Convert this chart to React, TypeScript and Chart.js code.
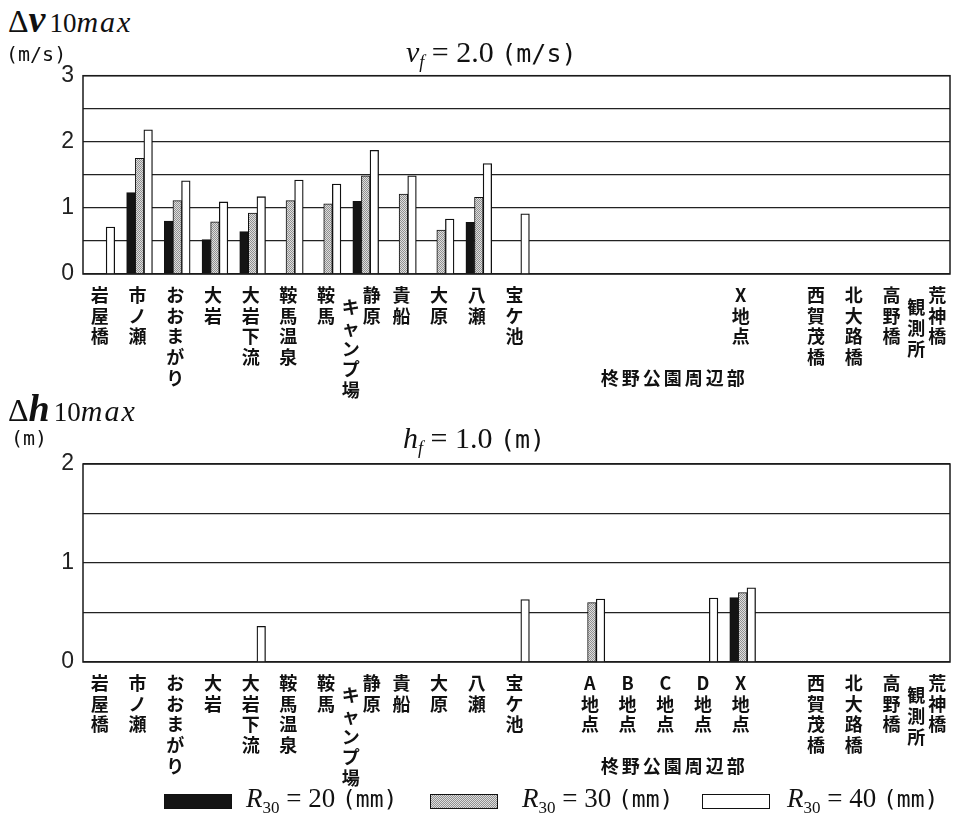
import React, { useEffect, useRef } from 'react';
import { Chart, registerables } from 'chart.js';

Chart.register(...registerables);

// ---------- data ----------
const topCategories = [
  '岩屋橋', '市ノ瀬', 'おおまがり', '大岩', '大岩下流', '鞍馬温泉', '鞍馬', '静原|キャンプ場',
  '貴船', '大原', '八瀬', '宝ケ池', '', '', '', '', '', 'X地点', '', '西賀茂橋', '北大路橋', '高野橋', '荒神橋|観測所',
];
const bottomCategories = [
  '岩屋橋', '市ノ瀬', 'おおまがり', '大岩', '大岩下流', '鞍馬温泉', '鞍馬', '静原|キャンプ場',
  '貴船', '大原', '八瀬', '宝ケ池', '', 'A地点', 'B地点', 'C地点', 'D地点', 'X地点', '', '西賀茂橋', '北大路橋', '高野橋', '荒神橋|観測所',
];
const groupLabel = '柊野公園周辺部';
const groupFirst = 13;
const groupLast = 17;

const seriesNames = ['R30 = 20 (mm)', 'R30 = 30 (mm)', 'R30 = 40 (mm)'];

const topR20 = [null, 1.23, 0.8, 0.52, 0.64, null, null, 1.1, null, null, 0.78, null, null, null, null, null, null, null, null, null, null, null, null];
const topR30 = [null, 1.75, 1.11, 0.79, 0.92, 1.11, 1.06, 1.485, 1.21, 0.665, 1.16, null, null, null, null, null, null, null, null, null, null, null, null];
const topR40 = [0.71, 2.18, 1.41, 1.09, 1.17, 1.42, 1.36, 1.87, 1.485, 0.83, 1.67, 0.91, null, null, null, null, null, null, null, null, null, null, null];

const bottomR20 = [null, null, null, null, null, null, null, null, null, null, null, null, null, null, null, null, null, 0.65, null, null, null, null, null];
const bottomR30 = [null, null, null, null, null, null, null, null, null, null, null, null, null, 0.6, null, null, null, 0.7, null, null, null, null, null];
const bottomR40 = [null, null, null, null, 0.36, null, null, null, null, null, null, 0.63, null, 0.635, null, null, 0.645, 0.75, null, null, null, null, null];

const topYMax = 3;
const bottomYMax = 2;
const yStep = 0.5;

// ---------- plugins ----------
const framePlugin = {
  id: 'frame',
  afterDatasetsDraw(chart: any) {
    const { ctx, chartArea } = chart;
    ctx.save();
    ctx.strokeStyle = '#1a1a1a';
    ctx.lineWidth = 1.5;
    ctx.strokeRect(chartArea.left, chartArea.top, chartArea.right - chartArea.left, chartArea.bottom - chartArea.top);
    ctx.restore();
  },
};

const labelPlugin = {
  id: 'catLabels',
  afterDraw(chart: any, _args: any, opts: any) {
    const { ctx, chartArea, scales } = chart;
    const xs = scales.x;
    const labels: string[] = opts.labels || [];
    const pitch = 20.7;
    const y0 = chartArea.bottom + 21;
    ctx.save();
    ctx.fillStyle = '#111';
    ctx.textAlign = 'center';
    ctx.textBaseline = 'middle';
    ctx.font = 'bold 18px "Noto Sans CJK JP", sans-serif';
    labels.forEach((lab, i) => {
      if (!lab) return;
      const cx = xs.getPixelForValue(i) - 2;
      const cols = lab.split('|');
      cols.forEach((col, k) => {
        const dx = cols.length > 1 ? (k === 0 ? 8 : -13) : 0;
        const dy = k === 0 ? 0 : pitch * 0.6;
        Array.from(col).forEach((ch, j) => {
          ctx.fillText(ch, cx + dx, y0 + dy + j * pitch);
        });
      });
    });
    const gx = (xs.getPixelForValue(groupFirst) + xs.getPixelForValue(groupLast)) / 2 + 7;
    (ctx as any).letterSpacing = '3px';
    ctx.fillText(groupLabel, gx, chartArea.bottom + 104);
    ctx.restore();
  },
};

function makePattern(): CanvasPattern | string {
  const c = document.createElement('canvas');
  c.width = 2;
  c.height = 2;
  const g = c.getContext('2d');
  if (!g) return '#bbb';
  g.fillStyle = '#dedede';
  g.fillRect(0, 0, 2, 2);
  g.fillStyle = '#909090';
  g.fillRect(0, 0, 1, 1);
  g.fillRect(1, 1, 1, 1);
  return g.createPattern(c, 'repeat') || '#bbb';
}

function makeConfig(labels: string[], r20: any[], r30: any[], r40: any[], yMax: number, padTop: number, padBottom: number, pattern: any): any {
  return {
    type: 'bar',
    data: {
      labels,
      datasets: [
        { label: seriesNames[0], data: r20, backgroundColor: '#141414', borderColor: '#111', borderWidth: 1 },
        { label: seriesNames[1], data: r30, backgroundColor: pattern, borderColor: '#111', borderWidth: 1 },
        { label: seriesNames[2], data: r40, backgroundColor: '#ffffff', borderColor: '#111', borderWidth: 1.3 },
      ],
    },
    options: {
      responsive: false,
      animation: false,
      layout: { padding: { top: padTop, right: 6, bottom: padBottom, left: 0 } },
      datasets: { bar: { barThickness: 8.6 } },
      plugins: {
        legend: { display: false },
        tooltip: { enabled: false },
        catLabels: { labels },
      },
      scales: {
        x: { type: 'category', display: false, offset: true },
        y: {
          min: 0,
          max: yMax,
          afterFit: (s: any) => { s.width = 83; s.paddingTop = 0; s.paddingBottom = 0; },
          border: { display: false },
          grid: { color: '#222', lineWidth: 1.3, drawTicks: false },
          ticks: {
            stepSize: yStep,
            padding: 9,
            color: '#222',
            font: { family: '"Liberation Sans", Arial, sans-serif', size: 23 },
            callback: (v: any) => (Number.isInteger(v) ? String(v) : ''),
          },
        },
      },
    },
    plugins: [framePlugin, labelPlugin],
  };
}

// ---------- components ----------
const serif = '"Liberation Serif", "Times New Roman", serif';
const mono = '"DejaVu Sans Mono", "Liberation Mono", monospace';

function MathLabel({ sym, top, left }: { sym: string; top: number; left: number }) {
  return (
    <div style={{ position: 'absolute', left, top, fontFamily: serif, whiteSpace: 'nowrap', lineHeight: 1, color: '#111' }}>
      <span style={{ fontSize: 32 }}>Δ</span>
      <span style={{ fontSize: 38, fontWeight: 'bold', fontStyle: 'italic' }}>{sym}</span>
      <span style={{ fontSize: 27, marginLeft: 4 }}>10</span>
      <span style={{ fontSize: 30, fontStyle: 'italic', letterSpacing: 2 }}>max</span>
    </div>
  );
}

function Cond({ sym, val, unit, left, top }: { sym: string; val: string; unit: string; left: number; top: number }) {
  return (
    <div style={{ position: 'absolute', left, top, fontFamily: serif, whiteSpace: 'nowrap', lineHeight: 1, color: '#111' }}>
      <span style={{ fontSize: 30, fontStyle: 'italic' }}>{sym}</span>
      <sub style={{ fontSize: 18, fontStyle: 'italic', verticalAlign: -6 }}>f</sub>
      <span style={{ fontSize: 30 }}> = {val} </span>
      <span style={{ fontSize: 25, fontFamily: mono }}>{unit}</span>
    </div>
  );
}

function LegendItem({ boxLeft, textLeft, fill, n }: { boxLeft: number; textLeft: number; fill: string; n: string }) {
  return (
    <>
      <div style={{ position: 'absolute', left: boxLeft, top: 794, width: 68, height: 15, background: fill, border: '1.3px solid #111', boxSizing: 'border-box' }} />
      <div style={{ position: 'absolute', left: textLeft, top: 785, fontFamily: serif, whiteSpace: 'nowrap', lineHeight: 1, color: '#111' }}>
        <span style={{ fontSize: 27, fontStyle: 'italic' }}>R</span>
        <sub style={{ fontSize: 17, verticalAlign: -6 }}>30</sub>
        <span style={{ fontSize: 27 }}> = {n} </span>
        <span style={{ fontSize: 23, fontFamily: mono }}>(mm)</span>
      </div>
    </>
  );
}

export default function App() {
  const topRef = useRef<HTMLCanvasElement | null>(null);
  const botRef = useRef<HTMLCanvasElement | null>(null);

  useEffect(() => {
    const pattern = makePattern();
    const charts: Chart[] = [];
    if (topRef.current) {
      charts.push(new Chart(topRef.current, makeConfig(topCategories, topR20, topR30, topR40, topYMax, 15.7, 126, pattern)));
    }
    if (botRef.current) {
      charts.push(new Chart(botRef.current, makeConfig(bottomCategories, bottomR20, bottomR30, bottomR40, bottomYMax, 24, 128, pattern)));
    }
    return () => charts.forEach((c) => c.destroy());
  }, []);

  return (
    <div style={{ position: 'absolute', left: 0, top: 0, width: 956, height: 819, background: '#fff', overflow: 'hidden' }}>
      <canvas ref={topRef} width={956} height={340} style={{ position: 'absolute', left: 0, top: 60, width: 956, height: 340 }} />
      <canvas ref={botRef} width={956} height={350} style={{ position: 'absolute', left: 0, top: 440, width: 956, height: 350 }} />

      <MathLabel sym="v" left={8} top={0} />
      <div style={{ position: 'absolute', left: 6, top: 42, fontFamily: mono, fontSize: 20, color: '#111' }}>(m/s)</div>
      <Cond sym="v" val="2.0" unit="(m/s)" left={406} top={37} />

      <MathLabel sym="h" left={8} top={389} />
      <div style={{ position: 'absolute', left: 11, top: 426, fontFamily: mono, fontSize: 20, color: '#111' }}>(m)</div>
      <Cond sym="h" val="1.0" unit="(m)" left={403} top={423} />

      <LegendItem boxLeft={164} textLeft={246} fill="#141414" n="20" />
      <LegendItem boxLeft={430} textLeft={522} fill="repeating-conic-gradient(#909090 0 25%, #dedede 0 50%) 0 0 / 2px 2px" n="30" />
      <LegendItem boxLeft={702} textLeft={787} fill="#ffffff" n="40" />
    </div>
  );
}
